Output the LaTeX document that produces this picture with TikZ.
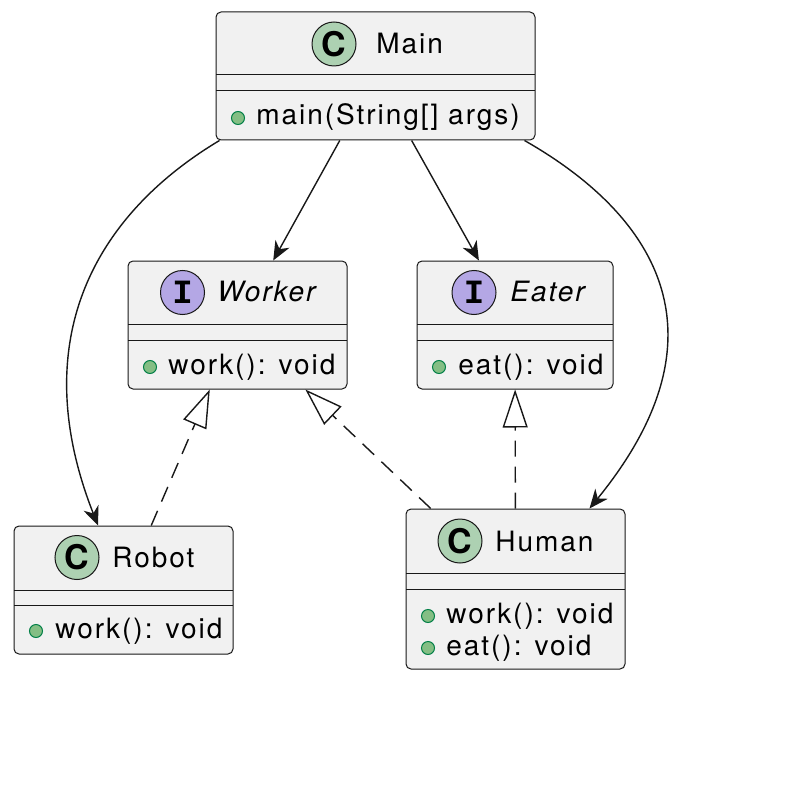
\documentclass[tikz,border=0pt]{standalone}
\usepackage{fontspec}
\setmainfont{TeX Gyre Heros}[LetterSpace=7]
\setmonofont{Liberation Mono}
\usepackage{tikz}
\usetikzlibrary{arrows.meta}

\definecolor{boxfill}{HTML}{F1F1F1}
\definecolor{boxline}{HTML}{181818}
\definecolor{classbadge}{HTML}{ADD1B2}
\definecolor{ifacebadge}{HTML}{B4A7E5}
\definecolor{dotfill}{HTML}{84BE84}
\definecolor{dotline}{HTML}{038048}

\begin{document}
\begin{tikzpicture}[x=0.5pt, y=-0.5pt,
        font=\fontsize{14}{16}\selectfont,
        classbox/.style={draw=boxline, fill=boxfill, line width=0.5pt, rounded corners=2.5pt, inner sep=0pt, minimum height=64pt},
        badge/.style={circle, draw=boxline, line width=0.5pt, minimum size=22pt, inner sep=0pt, font=\fontsize{17}{17}\selectfont\bfseries},
        txt/.style={anchor=base west, inner sep=0pt},
        pub/.style={circle, draw=dotline, fill=dotfill, line width=0.5pt, minimum size=6.5pt, inner sep=0pt},
        dep/.style={-{Stealth[length=9.5pt, width=8pt, inset=3pt]}, line width=0.7pt, draw=boxline},
        real/.style={-{Triangle[open, fill=white, length=19pt, width=12.5pt]}, line width=0.7pt, draw=boxline, dash pattern=on 8pt off 5pt}]
    \fill[white] (0,0) rectangle (790,802);

    % classes
    \node[classbox, minimum width=159.5pt] (main) at (375.5,76) {};
    \node[classbox, minimum width=109.5pt] (worker) at (237.5,325) {};
    \node[classbox, minimum width=98pt] (eater) at (515,325) {};
    \node[classbox, minimum width=109.5pt] (robot) at (123.5,590) {};
    \node[classbox, minimum width=109.5pt, minimum height=80pt] (human) at (515.5,589) {};

    \draw[boxline, line width=0.5pt] (216,75) -- (535,75) (216,91) -- (535,91);
    \draw[boxline, line width=0.5pt] (128,324) -- (347,324) (128,340) -- (347,340);
    \draw[boxline, line width=0.5pt] (417,324) -- (613,324) (417,340) -- (613,340);
    \draw[boxline, line width=0.5pt] (14,590) -- (233,590) (14,605) -- (233,605);
    \draw[boxline, line width=0.5pt] (406,573) -- (625,573) (406,589) -- (625,589);

    % headers
    \node[badge, fill=classbadge] (mainC) at (334,44) {C};
    \node[txt] (mainT) at (376,54) {Main};
    \node[badge, fill=ifacebadge] (workerI) at (182.5,292.5) {\ttfamily I};
    \node[txt] (workerT) at (217,301) {\itshape Worker};
    \node[badge, fill=ifacebadge] (eaterI) at (474,292.5) {\ttfamily I};
    \node[txt] (eaterT) at (510,301) {\itshape Eater};
    \node[badge, fill=classbadge] (robotC) at (77,557.5) {C};
    \node[txt] (robotT) at (112,567) {Robot};
    \node[badge, fill=classbadge] (humanC) at (460,541) {C};
    \node[txt] (humanT) at (495,551) {Human};

    % methods
    \node[pub] (mainD) at (238,118) {};
    \node[txt] (mainM) at (256,125) {main(String[] args)};
    \node[pub] (workerD) at (150,367) {};
    \node[txt] (workerM) at (168,374) {work(): void};
    \node[pub] (eaterD) at (439,367) {};
    \node[txt] (eaterM) at (458,374) {eat(): void};
    \node[pub] (robotD) at (36,631) {};
    \node[txt] (robotM) at (55,638) {work(): void};
    \node[pub] (humanD1) at (428,616) {};
    \node[txt] (humanM1) at (446,623) {work(): void};
    \node[pub] (humanD2) at (428,648) {};
    \node[txt] (humanM2) at (446,655) {eat(): void};

    % links
    \draw[dep] (main) -- (worker);
    \draw[dep] (main) -- (eater);
    \draw[dep] ([xshift=2pt]main.south west) .. controls (95,215) and (25,340) .. ([xshift=-12.75pt]robot.north);
    \draw[dep] ([xshift=-5.5pt]main.south east) .. controls (650,212) and (735,330) .. ([xshift=37pt]human.north);
    \draw[real] (robot) -- (worker);
    \draw[real] (human) -- (worker);
    \draw[real] (human) -- (eater);
\end{tikzpicture}
\end{document}
